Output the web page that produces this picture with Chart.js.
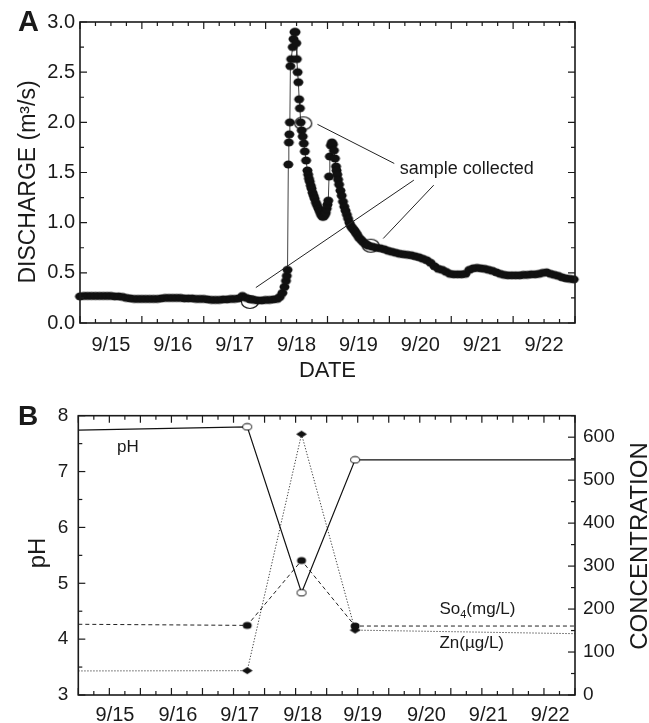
<!DOCTYPE html>
<html>
<head>
<meta charset="utf-8">
<script src="https://cdn.jsdelivr.net/npm/chart.js@4.4.1/dist/chart.umd.min.js"></script>
<style>
  html, body { margin: 0; padding: 0; background: #fff; }
  #wrap { position: relative; width: 649px; height: 723px; }
  canvas { position: absolute; left: 0; }
  #chartA { top: 0; }
  #chartB { top: 380px; }
</style>
</head>
<body>
<div id="wrap">
  <canvas id="chartA" width="649" height="390"></canvas>
  <canvas id="chartB" width="649" height="343"></canvas>
</div>
<script>
const FONT = "'Liberation Sans', Arial, Helvetica, sans-serif";
const INK = "#1a1a1a";

// ---- panel A: discharge, x = hours after 9/15 00:00 ----
const hours = [
  0, 1.5, 3, 4.5, 6, 7.5, 9, 10.5, 12, 13.5, 15, 16.5, 18, 19.5,
  21, 22.5, 24, 25.5, 27, 28.5, 30, 31.5, 33, 34.5, 36, 37.5, 39, 40.5, 42,
  43.5, 45, 46.5, 48, 49.5, 51, 52.5, 54, 55.5, 57, 58.5, 60, 61.5, 63, 64.5, 66,
  67.5, 69, 70.5, 72, 73.5, 75, 76.5, 77.5, 78.5, 79.3, 79.9, 80.2, 80.5,
  80.8, 81.0, 81.2, 81.4, 81.6, 81.9, 82.5, 82.8, 83.2, 83.6,
  83.9, 84.1, 84.4, 84.7, 85.0, 85.3, 85.6, 86.0, 86.4, 86.8,
  87.2, 87.7, 88.2, 88.5, 88.8, 89.1, 89.5, 89.8, 90.2, 90.6,
  91.0, 91.5, 92.0, 92.5, 93.0, 93.5, 94.0, 94.5, 95.0, 95.3,
  95.7, 96.0, 96.3, 96.6, 96.9, 97.3, 97.7, 98.1, 98.5, 98.9,
  99.3, 99.5, 99.8, 100.1, 100.5, 101.0, 101.5, 102.0, 102.5, 103.0,
  103.5, 104.0, 104.5, 105.0, 105.5, 106.0, 106.5, 107.0, 107.5, 108.2,
  109, 109.7, 110.5, 111.2, 112, 113.5, 115, 116.5,
  118, 119.5, 121, 122.5, 124, 125.5, 127, 128.5, 130, 131.5,
  133, 134.5, 136, 137.5, 139, 140.5, 142, 143.5, 145, 146.5,
  148, 149.5, 151, 152.5, 154, 155.5, 157, 158.5, 160, 161.5,
  163, 164.5, 166, 167.5, 169, 170.5, 172, 173.5, 175, 176.5,
  178, 179.5, 181, 182.5, 184, 185.5, 187, 188.5, 190, 191.5
];
const discharge = [
  0.265, 0.27, 0.27, 0.27, 0.27, 0.27, 0.27, 0.27, 0.27, 0.265, 0.265, 0.26, 0.25, 0.245,
  0.24, 0.24, 0.24, 0.24, 0.24, 0.24, 0.24, 0.245, 0.25, 0.25, 0.25, 0.25, 0.25, 0.245, 0.245,
  0.245, 0.24, 0.24, 0.24, 0.235, 0.23, 0.23, 0.23, 0.235, 0.235, 0.24, 0.24, 0.245, 0.27, 0.25, 0.235,
  0.23, 0.225, 0.225, 0.23, 0.23, 0.235, 0.24, 0.26, 0.30, 0.36, 0.42, 0.47, 0.53,
  1.58, 1.80, 1.88, 2.00, 2.56, 2.63, 2.75, 2.83, 2.90, 2.90,
  2.79, 2.63, 2.50, 2.40, 2.23, 2.14, 2.00, 1.92, 1.86, 1.79,
  1.71, 1.62, 1.52, 1.48, 1.44, 1.41, 1.37, 1.34, 1.30, 1.27,
  1.24, 1.20, 1.17, 1.14, 1.11, 1.08, 1.06, 1.06, 1.08, 1.10,
  1.14, 1.18, 1.22, 1.46, 1.66, 1.77, 1.80, 1.78, 1.72, 1.64,
  1.56, 1.52, 1.48, 1.43, 1.38, 1.32, 1.27, 1.21, 1.16, 1.12,
  1.08, 1.04, 1.00, 0.97, 0.95, 0.935, 0.92, 0.90, 0.88, 0.85,
  0.83, 0.81, 0.79, 0.78, 0.77, 0.76, 0.75, 0.745,
  0.735, 0.72, 0.71, 0.70, 0.69, 0.685, 0.68, 0.675, 0.665, 0.655,
  0.64, 0.625, 0.60, 0.565, 0.54, 0.53, 0.51, 0.49, 0.485, 0.485,
  0.485, 0.49, 0.53, 0.545, 0.55, 0.545, 0.54, 0.53, 0.52, 0.505,
  0.49, 0.48, 0.475, 0.475, 0.475, 0.475, 0.48, 0.48, 0.485, 0.485,
  0.49, 0.50, 0.505, 0.49, 0.48, 0.47, 0.455, 0.445, 0.44, 0.435
];
const sampleHours = [65.9, 86.6, 112.8];
const sampleDischarge = [0.21, 1.99, 0.77];
const leaderFrom = [[92.1, 1.98], [68.2, 0.353], [117.6, 0.842]];
const leaderTo = [[121.9, 1.59], [129.5, 1.424], [137.2, 1.374]];
const sampleNote = [124, 1.49];
const dayLabels = ["9/15", "9/16", "9/17", "9/18", "9/19", "9/20", "9/21", "9/22"];
const dayLabelHoursA = [12, 36, 60, 84, 108, 132, 156, 180];
const dischargeTicks = [0, 0.5, 1, 1.5, 2, 2.5, 3];

// ---- panel B: water chemistry ----
const chemHours = [0, 65.3, 86.3, 107.0, 192];
const ph = [7.74, 7.80, 4.83, 7.21, 7.21];
const so4 = [164.6, 162, 313, 160.5, 160.5];
const zn = [56, 56.6, 607, 151, 142.7];
const dayLabelHoursB = [14.2, 38.5, 62.4, 86.7, 109.9, 134.6, 158.5, 182.4];
const phTicks = [3, 4, 5, 6, 7, 8];
const concTicks = [0, 100, 200, 300, 400, 500, 600];
const phNote = [15, 7.35];
const so4Note = [139.6, 188.6];
const znNote = [139.6, 109.4];

// markers
function ellipseMarker(w, h, fill, stroke, lw) {
  const c = document.createElement("canvas");
  c.width = w + 3; c.height = h + 3;
  const g = c.getContext("2d");
  g.beginPath();
  g.ellipse(c.width / 2, c.height / 2, w / 2, h / 2, 0, 0, 2 * Math.PI);
  if (fill) { g.fillStyle = fill; g.fill(); }
  if (stroke) { g.lineWidth = lw || 1; g.strokeStyle = stroke; g.stroke(); }
  return c;
}
function diamondMarker(w, h, fill) {
  const c = document.createElement("canvas");
  c.width = w + 2; c.height = h + 2;
  const g = c.getContext("2d");
  const cx = c.width / 2, cy = c.height / 2;
  g.beginPath();
  g.moveTo(cx - w / 2, cy); g.lineTo(cx, cy - h / 2); g.lineTo(cx + w / 2, cy); g.lineTo(cx, cy + h / 2);
  g.closePath();
  g.fillStyle = fill; g.fill();
  return c;
}
const dotA = ellipseMarker(10, 8, "#111", null);
const ringA = ellipseMarker(17, 13, null, "#111", 1.2);
const openB = ellipseMarker(9, 6.5, "#fff", "#111");
const fullB = ellipseMarker(9, 7, "#111", null);
const diamB = diamondMarker(11, 7, "#111");

function label(ctx, str, x, y, size, opts) {
  opts = opts || {};
  ctx.save();
  ctx.font = (opts.bold ? "bold " : "") + size + "px " + FONT;
  ctx.fillStyle = INK;
  ctx.textAlign = opts.align || "left";
  ctx.textBaseline = "alphabetic";
  ctx.translate(x, y);
  if (opts.rotate) ctx.rotate(opts.rotate);
  ctx.fillText(str, 0, 0);
  ctx.restore();
}

// box + inward ticks on all four sides, then the panel's texts
function frameAndTicks(spec) {
  return {
    id: "frame",
    afterDraw(chart) {
      const ctx = chart.ctx;
      const a = chart.chartArea;
      ctx.save();
      ctx.strokeStyle = INK;
      ctx.lineWidth = 1.2;
      spec.ticks.forEach(t => {
        const s = chart.scales[t.scale];
        for (let k = 0; s.min + k * t.step <= s.max + 1e-6; k++) {
          const v = s.min + k * t.step;
          const r = v / t.major;
          const len = Math.abs(r - Math.round(r)) < 1e-6 ? 7 : 4;
          const p = s.getPixelForValue(v);
          ctx.beginPath();
          if (s.isHorizontal()) {
            ctx.moveTo(p, a.bottom); ctx.lineTo(p, a.bottom - len);
            ctx.moveTo(p, a.top); ctx.lineTo(p, a.top + len);
          } else {
            if (t.sides.includes("left")) { ctx.moveTo(a.left, p); ctx.lineTo(a.left + len, p); }
            if (t.sides.includes("right")) { ctx.moveTo(a.right, p); ctx.lineTo(a.right - len, p); }
          }
          ctx.stroke();
        }
      });
      ctx.lineWidth = 1.6;
      ctx.strokeRect(a.left, a.top, a.right - a.left, a.bottom - a.top);
      spec.texts(chart, ctx);
      ctx.restore();
    }
  };
}

function axisCommon(size, padding) {
  return {
    grid: { display: false, drawTicks: false },
    border: { display: false },
    ticks: { color: INK, padding: padding, autoSkip: false, maxRotation: 0, font: { family: FONT, size: size } }
  };
}

// ---------- chart A ----------
const xA = axisCommon(20, 10);
xA.type = "linear"; xA.min = 0; xA.max = 192;
xA.afterBuildTicks = s => { s.ticks = dayLabelHoursA.map(v => ({ value: v })); };
xA.afterFit = s => { s.height = 67; };
xA.ticks.callback = (v, i) => dayLabels[i];

const yA = axisCommon(20, 5);
yA.min = 0; yA.max = 3;
yA.afterBuildTicks = s => { s.ticks = dischargeTicks.map(v => ({ value: v })); };
yA.afterFit = s => { s.width = 80; };
yA.ticks.callback = v => v.toFixed(1);

new Chart(document.getElementById("chartA"), {
  type: "line",
  data: {
    datasets: [
      {
        data: sampleHours.map((h, i) => ({ x: h, y: sampleDischarge[i] })),
        showLine: false,
        pointStyle: ringA,
        pointRadius: 7,
        clip: false
      },
      {
        data: hours.map((h, i) => ({ x: h, y: discharge[i] })),
        borderColor: "#444",
        borderWidth: 1,
        pointStyle: dotA,
        pointRadius: 4,
        tension: 0,
        clip: false
      }
    ]
  },
  options: {
    responsive: false,
    animation: false,
    events: [],
    layout: { padding: { top: 22, right: 74, left: 0, bottom: 0 } },
    plugins: { legend: { display: false }, tooltip: { enabled: false } },
    scales: { x: xA, y: yA }
  },
  plugins: [frameAndTicks({
    ticks: [
      { scale: "x", step: 6, major: 24 },
      { scale: "y", step: 0.25, major: 0.5, sides: ["left", "right"] }
    ],
    texts(chart, ctx) {
      const { x, y } = chart.scales;
      const a = chart.chartArea;
      label(ctx, "A", 18, 31, 29, { bold: true });
      label(ctx, "DISCHARGE (m³/s)", 35, 182, 23, { align: "center", rotate: -Math.PI / 2 });
      label(ctx, "DATE", (a.left + a.right) / 2, 377, 22, { align: "center" });
      label(ctx, "sample collected", x.getPixelForValue(sampleNote[0]), y.getPixelForValue(sampleNote[1]), 18);
      ctx.strokeStyle = "#222";
      ctx.lineWidth = 1;
      leaderFrom.forEach((p, i) => {
        ctx.beginPath();
        ctx.moveTo(x.getPixelForValue(p[0]), y.getPixelForValue(p[1]));
        ctx.lineTo(x.getPixelForValue(leaderTo[i][0]), y.getPixelForValue(leaderTo[i][1]));
        ctx.stroke();
      });
    }
  })]
});

// ---------- chart B ----------
const xB = axisCommon(20, 8);
xB.type = "linear"; xB.min = 0; xB.max = 192;
xB.afterBuildTicks = s => { s.ticks = dayLabelHoursB.map(v => ({ value: v })); };
xB.afterFit = s => { s.height = 28; };
xB.ticks.callback = (v, i) => dayLabels[i];

const yB = axisCommon(19, 10);
yB.position = "left"; yB.min = 3; yB.max = 8;
yB.afterBuildTicks = s => { s.ticks = phTicks.map(v => ({ value: v })); };
yB.afterFit = s => { s.width = 78.3; };

const y1B = axisCommon(19, 8);
y1B.position = "right"; y1B.min = 0; y1B.max = 650;
y1B.afterBuildTicks = s => { s.ticks = concTicks.map(v => ({ value: v })); };
y1B.afterFit = s => { s.width = 74; };

const edgeless = chemHours.map((h, i) => (i === 0 || i === chemHours.length - 1 ? 0 : 5));

new Chart(document.getElementById("chartB"), {
  type: "line",
  data: {
    datasets: [
      {
        label: "pH",
        data: chemHours.map((h, i) => ({ x: h, y: ph[i] })),
        yAxisID: "y",
        borderColor: "#111",
        borderWidth: 1.2,
        pointStyle: openB,
        pointRadius: edgeless
      },
      {
        label: "So4",
        data: chemHours.map((h, i) => ({ x: h, y: so4[i] })),
        yAxisID: "y1",
        borderColor: "#222",
        borderWidth: 1,
        borderDash: [4, 3],
        pointStyle: fullB,
        pointRadius: edgeless
      },
      {
        label: "Zn",
        data: chemHours.map((h, i) => ({ x: h, y: zn[i] })),
        yAxisID: "y1",
        borderColor: "#444",
        borderWidth: 1,
        borderDash: [1.3, 1.7],
        pointStyle: diamB,
        pointRadius: edgeless
      }
    ]
  },
  options: {
    responsive: false,
    animation: false,
    events: [],
    layout: { padding: { top: 35.7, right: 0, left: 0, bottom: 0 } },
    plugins: { legend: { display: false }, tooltip: { enabled: false } },
    scales: { x: xB, y: yB, y1: y1B }
  },
  plugins: [frameAndTicks({
    ticks: [
      { scale: "x", step: 6, major: 12 },
      { scale: "y", step: 0.5, major: 1, sides: ["left"] },
      { scale: "y1", step: 50, major: 100, sides: ["right"] }
    ],
    texts(chart, ctx) {
      const { x, y, y1 } = chart.scales;
      label(ctx, "B", 18, 45, 28, { bold: true });
      label(ctx, "pH", 45, 173, 24, { align: "center", rotate: -Math.PI / 2 });
      label(ctx, "CONCENTRATION", 647, 166, 24, { align: "center", rotate: -Math.PI / 2 });
      label(ctx, "pH", x.getPixelForValue(phNote[0]), y.getPixelForValue(phNote[1]), 17);

      const sx = x.getPixelForValue(so4Note[0]);
      const sy = y1.getPixelForValue(so4Note[1]);
      ctx.font = "17px " + FONT;
      const w1 = ctx.measureText("So").width;
      ctx.font = "11px " + FONT;
      const w2 = ctx.measureText("4").width;
      label(ctx, "So", sx, sy, 17);
      label(ctx, "4", sx + w1, sy + 4, 11);
      label(ctx, "(mg/L)", sx + w1 + w2, sy, 17);

      label(ctx, "Zn(µg/L)", x.getPixelForValue(znNote[0]), y1.getPixelForValue(znNote[1]), 17);
    }
  })]
});
</script>
</body>
</html>
